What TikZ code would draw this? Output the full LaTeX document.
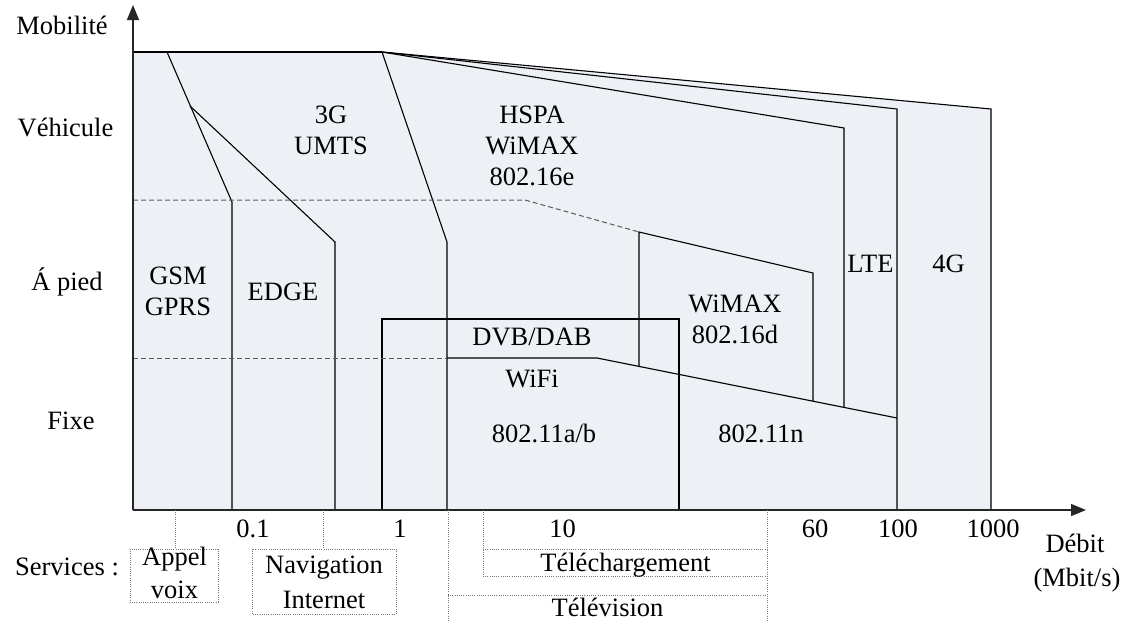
\documentclass[tikz,border=0pt]{standalone}
\usepackage{fontspec}
\setmainfont{Liberation Serif}
\usetikzlibrary{arrows.meta}
\definecolor{bgfill}{RGB}{237,240,245}
\definecolor{dashgray}{RGB}{90,90,90}
\definecolor{dotgray}{RGB}{120,120,120}
\begin{document}
\begin{tikzpicture}[x=1pt,y=-1pt,
  edge/.style={line width=1.1pt, black, line join=miter},
  axisline/.style={line width=1.4pt, black!85, -{Triangle[length=15pt,width=12pt]}},
  dashln/.style={dashgray, line width=1pt, dash pattern=on 5pt off 3pt},
  dotln/.style={dotgray, line width=0.9pt, dash pattern=on 1pt off 1.2pt},
  lbl/.style={font=\fontsize{26.5}{31}\selectfont, inner sep=0pt, align=center},
]
\useasboundingbox (0,0) rectangle (1131,621);

% background region
\fill[bgfill] (133,52) -- (382,52) -- (991,109) -- (991,510) -- (133,510) -- cycle;

% named points
\coordinate (O) at (133,510);
\coordinate (ytip) at (133,5);
\coordinate (xtip) at (1086,510);
\coordinate (apex) at (382,52);

% technology boundaries
\draw[edge] (133,52) -- (apex);
\draw[edge] (apex) -- (991,109) -- (991,510);
\draw[edge] (apex) -- (897,109) -- (897,510);
\draw[edge] (apex) -- (844,128) -- (844,407.4);
\draw[edge] (apex) -- (447,242) -- (447,510);
\draw[edge] (167,52) -- (232,202) -- (232,510);
\draw[edge] (190,106) -- (335,242) -- (335,510);
\draw[edge] (382,510) -- (382,319) -- (679,319) -- (679,510);
\draw[edge] (447,358) -- (597,358) -- (897,418);
\draw[edge] (639,366.4) -- (639,232) -- (813,273) -- (813,401.2);

% mobility boundaries
\draw[dashln] (133,200) -- (525,200) -- (639,232);
\draw[dashln] (133,358) -- (447,358);

% axes
\draw[axisline] (O) -- (ytip);
\draw[axisline] (O) -- (xtip);

% axis labels
\node[lbl, anchor=base] (mob) at (62,34.3) {Mobilité};
\node[lbl, anchor=base] (veh) at (65.5,136.7) {Véhicule};
\node[lbl, anchor=base] (pied) at (67,290) {Á pied};
\node[lbl, anchor=base] (fixe) at (71,429) {Fixe};
\node[lbl, anchor=base] (debit) at (1075,552.7) {Débit};
\node[lbl, anchor=base] (mbits) at (1077,586) {(Mbit/s)};

\node[lbl, anchor=base] (t01) at (253,537.7) {0.1};
\node[lbl, anchor=base] (t1) at (400,537.7) {1};
\node[lbl, anchor=base] (t10) at (562.5,537.7) {10};
\node[lbl, anchor=base] (t60) at (815,537.7) {60};
\node[lbl, anchor=base] (t100) at (898,537.3) {100};
\node[lbl, anchor=base] (t1000) at (993,537.3) {1000};

% technology labels
\node[lbl] (gsm) at (178,291.5) {GSM\\GPRS};
\node[lbl, anchor=base] (edge) at (283,300) {EDGE};
\node[lbl] (umts) at (331,130.5) {3G\\UMTS};
\node[lbl] (hspa) at (532,146) {HSPA\\WiMAX\\802.16e};
\node[lbl, anchor=base] (dvb) at (532,345) {DVB/DAB};
\node[lbl, anchor=base] (wifi) at (532,387.7) {WiFi};
\node[lbl, anchor=base] (wab) at (544,442) {802.11a/b};
\node[lbl] (wimaxd) at (735,319) {WiMAX\\802.16d};
\node[lbl, anchor=base] (wn) at (761,442) {802.11n};
\node[lbl, anchor=base] (lte) at (870.5,272.7) {LTE};
\node[lbl, anchor=base] (g4) at (948.5,272.7) {4G};

% services
\node[lbl, anchor=base] (serv) at (67,575) {Services :};

\coordinate (s1) at (175,510);
\coordinate (s1b) at (175,549);
\draw[dotln] (s1) -- (s1b);
\draw[dotln] (130,549) rectangle (218,602);
\node[lbl, anchor=base] (appel) at (174.5,565) {Appel};
\node[lbl, anchor=base] (voix) at (174.5,598) {voix};

\coordinate (s2) at (323,510);
\coordinate (s2b) at (323,549);
\draw[dotln] (s2) -- (s2b);
\draw[dotln] (252,549) rectangle (396,614);
\node[lbl, anchor=base] (navi) at (324,573.3) {Navigation};
\node[lbl, anchor=base] (inet) at (324,608) {Internet};

\draw[dotln] (483,510) -- (483,576) -- (767,576);
\draw[dotln] (483,549) -- (767,549);
\node[lbl, anchor=base] (telech) at (625.5,571.7) {Téléchargement};

\draw[dotln] (448,510) -- (448,621);
\draw[dotln] (767,510) -- (767,621);
\draw[dotln] (448,595) -- (767,595);
\node[lbl, anchor=base] (telev) at (607.5,616) {Télévision};
\end{tikzpicture}
\end{document}
